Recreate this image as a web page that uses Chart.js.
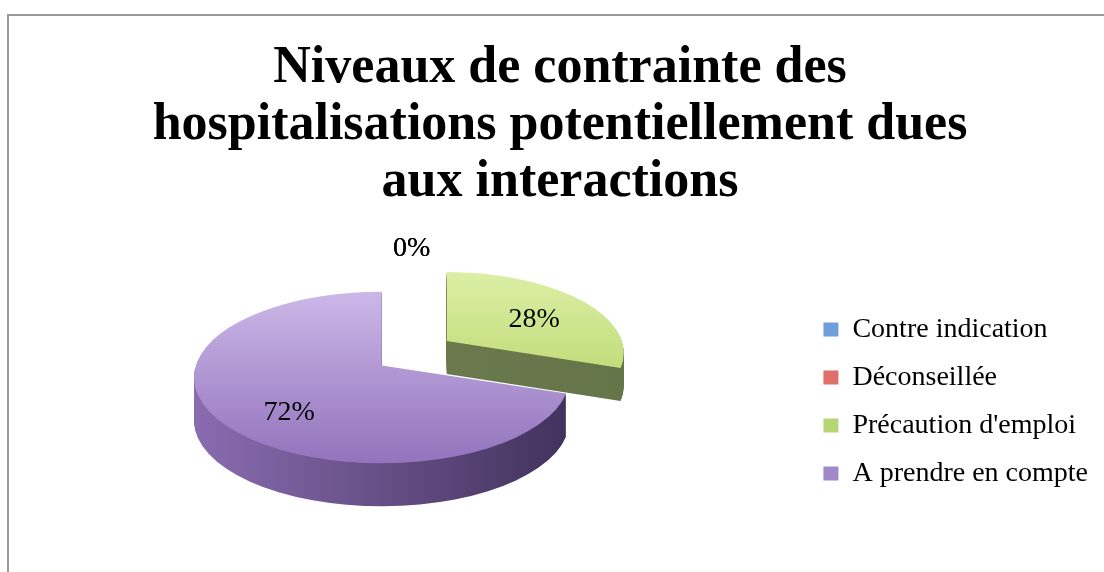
<!DOCTYPE html>
<html>
<head>
<meta charset="utf-8">
<script src="https://cdn.jsdelivr.net/npm/chart.js@4"></script>
<style>
  html, body { margin: 0; padding: 0; background: #fff; overflow: hidden; }
  #wrap { position: relative; width: 1104px; height: 572px; }
  #frame { position: absolute; left: 7px; top: 14px; width: 1200px; height: 700px;
           border-top: 2px solid #9a9a9a; border-left: 2px solid #9a9a9a; }
  canvas { position: absolute; left: 0; top: 0; }
</style>
</head>
<body>
<div id="wrap">
  <div id="frame"></div>
  <canvas id="myChart" width="1104" height="572"></canvas>
</div>
<script>
let chartTitle = ["Niveaux de contrainte des", "hospitalisations potentiellement dues", "aux interactions"];
let chartLabels = ["Contre indication", "Déconseillée", "Précaution d'emploi", "A prendre en compte"];
let chartValues = [0, 0, 28, 72];

// colours: legend swatch, top face (light -> dark), side
let legendColors = ["#6f9fdb", "#df6f6b", "#b6d676", "#a189c9"];
let topColors = [["#a9c8f0", "#4f81bd"], ["#f0a8a6", "#c0504d"], ["#dcefa6", "#b0d15e"], ["#cbb8e8", "#9373bd"]];
let sideColors = [["#3f6a9e", "#2a4a70"], ["#9e3f3c", "#6e2a28"], ["#6e7e50", "#65754a"], ["#8a6cb0", "#41325c"]];
let explode = [0, 0, 0.45, 0];

// how the flat pie is turned into a tilted 3D disc
const PIE = { shiftX: -31, shiftY: -24, scale: 1.101, tilt: 0.457, depth: 43,
              perspDepth: 0.8, perspSize: 0.2, lift: 12, labelR: 0.64 };

const pie3d = {
    id: "pie3d",
    beforeDatasetsDraw(chart) {
        const ctx = chart.ctx;
        const meta = chart.getDatasetMeta(0);
        const first = meta.data[0];
        const rx0 = first.outerRadius * PIE.scale;
        const ry0 = rx0 * PIE.tilt;
        const cx0 = first.x + PIE.shiftX;
        const cy0 = first.y + PIE.shiftY;

        let slices = meta.data.map(function (arc, i) {
            const mid = (arc.startAngle + arc.endAngle) / 2;
            const cy = cy0 + Math.sin(mid) * explode[i] * ry0;
            const back = (cy - cy0) / ry0;   // negative = further away
            const k = 1 + PIE.perspSize * back;
            return {
                i: i,
                a0: arc.startAngle,
                a1: arc.endAngle,
                mid: mid,
                cx: cx0 + Math.cos(mid) * explode[i] * rx0,
                cy: cy,
                rx: rx0 * k,
                ry: ry0 * k,
                depth: Math.round(PIE.depth * (1 + PIE.perspDepth * back))
            };
        });

        function face(s, dy) {
            ctx.beginPath();
            ctx.moveTo(s.cx, s.cy - PIE.lift + dy);
            ctx.ellipse(s.cx, s.cy + dy, s.rx, s.ry, 0, s.a0, s.a1);
            ctx.closePath();
        }

        ctx.save();
        // sides first
        slices.forEach(function (s) {
            if (s.a1 - s.a0 <= 0) return;
            const g = ctx.createLinearGradient(s.cx - s.rx, 0, s.cx + s.rx, 0);
            g.addColorStop(0, sideColors[s.i][0]);
            g.addColorStop(1, sideColors[s.i][1]);
            ctx.fillStyle = g;
            for (let d = s.depth; d >= 1; d--) {
                face(s, d);
                ctx.fill();
            }
        });
        // then the tops
        slices.forEach(function (s) {
            if (s.a1 - s.a0 <= 0) return;
            const g = ctx.createLinearGradient(0, s.cy - s.ry, 0, s.cy + s.ry);
            g.addColorStop(0, topColors[s.i][0]);
            g.addColorStop(1, topColors[s.i][1]);
            ctx.fillStyle = g;
            face(s, 0);
            ctx.fill();
        });

        // percentage labels
        const total = chartValues.reduce(function (a, b) { return a + b; }, 0);
        ctx.fillStyle = "#000";
        ctx.font = "28px 'Liberation Serif', serif";
        ctx.textAlign = "center";
        ctx.textBaseline = "middle";
        slices.forEach(function (s) {
            const txt = Math.round(chartValues[s.i] / total * 100) + "%";
            let x, y;
            if (chartValues[s.i] === 0) {
                x = s.cx + 0.16 * s.rx;
                y = s.cy - 1.5 * s.ry;
            } else {
                x = s.cx + Math.cos(s.mid) * PIE.labelR * s.rx;
                y = s.cy + Math.sin(s.mid) * PIE.labelR * s.ry;
            }
            ctx.fillText(txt, x, y);
        });
        ctx.restore();
        return false;
    }
};

document.addEventListener("DOMContentLoaded", function () {
    new Chart("myChart", {
        type: "pie",
        data: {
            labels: chartLabels,
            datasets: [{
                data: chartValues,
                backgroundColor: legendColors,
                borderWidth: 0
            }]
        },
        options: {
            responsive: false,
            animation: false,
            layout: {
                padding: { top: 40, left: 22, right: 6, bottom: 0 }
            },
            plugins: {
                title: {
                    display: true,
                    text: chartTitle,
                    color: "#000",
                    font: { family: "'Liberation Serif', serif", size: 52, weight: "bold", lineHeight: 1.096 },
                    padding: { top: 0, bottom: 20 }
                },
                legend: {
                    position: "right",
                    align: "center",
                    fullSize: false,
                    labels: {
                        color: "#000",
                        boxWidth: 15,
                        boxHeight: 14,
                        padding: 20,
                        font: { family: "'Liberation Serif', serif", size: 28, lineHeight: 1.15 }
                    }
                },
                tooltip: { enabled: false }
            }
        },
        plugins: [pie3d]
    });
});
</script>
</body>
</html>
